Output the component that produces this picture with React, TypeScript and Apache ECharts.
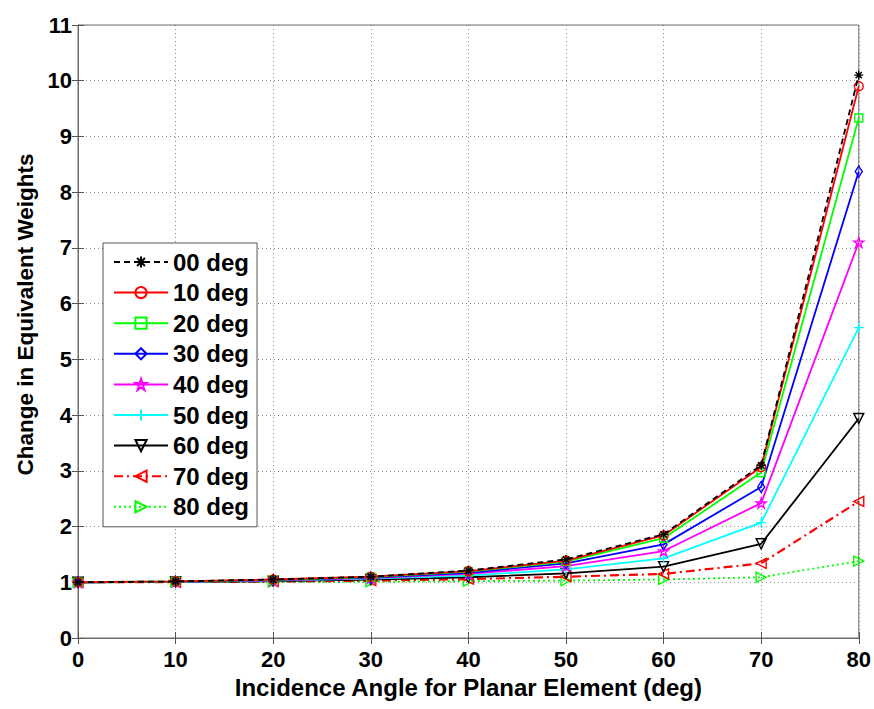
import React, { useEffect, useRef } from "react";
import * as echarts from "echarts";

const angles = [0, 10, 20, 30, 40, 50, 60, 70, 80];
const seriesNames = ["00 deg", "10 deg", "20 deg", "30 deg", "40 deg", "50 deg", "60 deg", "70 deg", "80 deg"];
const v00 = [1, 1.015, 1.05, 1.1, 1.21, 1.41, 1.86, 3.1, 10.1];
const v10 = [1, 1.015, 1.05, 1.1, 1.2, 1.39, 1.84, 3.07, 9.9];
const v20 = [1, 1.014, 1.045, 1.095, 1.19, 1.37, 1.79, 2.97, 9.33];
const v30 = [1, 1.012, 1.04, 1.085, 1.17, 1.34, 1.68, 2.71, 8.37];
const v40 = [1, 1.01, 1.035, 1.075, 1.15, 1.29, 1.56, 2.42, 7.1];
const v50 = [1, 1.008, 1.03, 1.065, 1.12, 1.23, 1.43, 2.07, 5.57];
const v60 = [1, 1.006, 1.02, 1.05, 1.09, 1.16, 1.28, 1.69, 3.94];
const v70 = [1, 1.004, 1.012, 1.03, 1.055, 1.1, 1.15, 1.34, 2.45];
const v80 = [1, 1.002, 1.005, 1.01, 1.02, 1.03, 1.05, 1.09, 1.38];
const yTicks = ["0", "1", "2", "3", "4", "5", "6", "7", "8", "9", "10", "11"];

const FONT = "'Liberation Sans', Arial, Helvetica, sans-serif";

const ASTER = "path://M0,-1L0,1M-1,0L1,0M-0.7,-0.7L0.7,0.7M-0.7,0.7L0.7,-0.7";
const STAR = "path://M0,-1L0.2245,-0.309L0.951,-0.309L0.363,0.118L0.588,0.809L0,0.382L-0.588,0.809L-0.363,0.118L-0.951,-0.309L-0.2245,-0.309Z";
const PLUS = "path://M0,-1L0,1M-1,0L1,0";
const TRI_DOWN = "path://M-1,-0.87L1,-0.87L0,0.87Z";
const TRI_LEFT = "path://M0.87,-1L0.87,1L-0.87,0Z";
const TRI_RIGHT = "path://M-0.87,-1L-0.87,1L0.87,0Z";

const styles = [
  { color: "#000000", type: [6, 4], symbol: ASTER, size: 9 },
  { color: "#ff0000", type: "solid", symbol: "circle", size: 9 },
  { color: "#00ff00", type: "solid", symbol: "rect", size: 8 },
  { color: "#0000ff", type: "solid", symbol: "diamond", size: [7, 11] },
  { color: "#ff00ff", type: "solid", symbol: STAR, size: 10 },
  { color: "#00ffff", type: "solid", symbol: PLUS, size: 10 },
  { color: "#000000", type: "solid", symbol: TRI_DOWN, size: 10 },
  { color: "#ff0000", type: [9, 4, 2, 4], symbol: TRI_LEFT, size: 10 },
  { color: "#00ff00", type: [2, 3], symbol: TRI_RIGHT, size: 10 },
];
const values = [v00, v10, v20, v30, v40, v50, v60, v70, v80];

export default function App() {
  const ref = useRef<HTMLDivElement>(null);
  useEffect(() => {
    if (!ref.current) return;
    const chart = echarts.init(ref.current, null, { renderer: "svg" });
    const series = seriesNames.map((name, i) => ({
      name,
      type: "line",
      xAxisIndex: 0,
      yAxisIndex: 0,
      data: angles.map((a, j) => [a, values[i][j]]),
      symbol: styles[i].symbol,
      symbolSize: styles[i].size,
      showSymbol: true,
      lineStyle: { color: styles[i].color, width: i === 7 ? 2.2 : 1.8, type: styles[i].type },
      itemStyle: { color: "rgba(0,0,0,0)", borderColor: styles[i].color, borderWidth: 1.4 },
      emphasis: { disabled: true },
      z: 10 - i,
    }));
    const tickText = { fontFamily: FONT, fontWeight: "bold", fontSize: 22, color: "#000" };
    chart.setOption({
      animation: false,
      backgroundColor: "#ffffff",
      grid: { left: 78, right: 14, top: 25, bottom: 71, show: true, borderColor: "#6e6e6e", borderWidth: 1 },
      legend: {
        show: true,
        orient: "vertical",
        left: 103,
        top: 243,
        data: seriesNames,
        itemWidth: 54,
        itemHeight: 14,
        itemGap: 6.6,
        padding: [7, 8, 8, 10],
        borderColor: "#555",
        borderWidth: 1,
        backgroundColor: "#ffffff",
        textStyle: { fontFamily: FONT, fontWeight: "bold", fontSize: 24, lineHeight: 24, color: "#000" },
        selectedMode: false,
      },
      xAxis: [
        {
          type: "value",
          min: 0,
          max: 80,
          interval: 10,
          position: "bottom",
          name: "Incidence Angle for Planar Element (deg)",
          nameLocation: "middle",
          nameGap: 37,
          nameTextStyle: { fontFamily: FONT, fontWeight: "bold", fontSize: 24, color: "#000" },
          axisLine: { show: true, lineStyle: { color: "#6e6e6e", width: 1 } },
          axisTick: { show: true, inside: true, length: 6, lineStyle: { color: "#555" } },
          axisLabel: { ...tickText, margin: 10 },
          splitLine: { show: true, lineStyle: { color: "#8c8c8c", type: [1, 3], width: 1 } },
        },
        {
          type: "value",
          min: 0,
          max: 80,
          interval: 10,
          position: "top",
          axisLine: { show: true, lineStyle: { color: "#6e6e6e", width: 1 } },
          axisTick: { show: true, inside: true, length: 6, lineStyle: { color: "#555" } },
          axisLabel: { show: false },
          splitLine: { show: false },
        },
      ],
      yAxis: [
        {
          type: "value",
          min: 0,
          max: 11,
          interval: 1,
          position: "left",
          name: "Change in Equivalent Weights",
          nameLocation: "middle",
          nameGap: 39,
          nameTextStyle: { fontFamily: FONT, fontWeight: "bold", fontSize: 22.5, color: "#000", padding: [0, 0, 0, 34] },
          axisLine: { show: true, lineStyle: { color: "#6e6e6e", width: 1 } },
          axisTick: { show: true, inside: true, length: 6, lineStyle: { color: "#555" } },
          axisLabel: { ...tickText, margin: 6, formatter: (v: number) => yTicks[Math.round(v)] ?? String(v) },
          splitLine: { show: true, lineStyle: { color: "#8c8c8c", type: [1, 3], width: 1 } },
        },
        {
          type: "value",
          min: 0,
          max: 11,
          interval: 1,
          position: "right",
          axisLine: { show: true, lineStyle: { color: "#6e6e6e", width: 1 } },
          axisTick: { show: true, inside: true, length: 6, lineStyle: { color: "#555" } },
          axisLabel: { show: false },
          splitLine: { show: false },
        },
      ],
      series,
    });
    return () => chart.dispose();
  }, []);
  return (
    <div
      ref={ref}
      style={{ position: "fixed", left: 0, top: 0, width: 874, height: 709, background: "#fff" }}
    />
  );
}
